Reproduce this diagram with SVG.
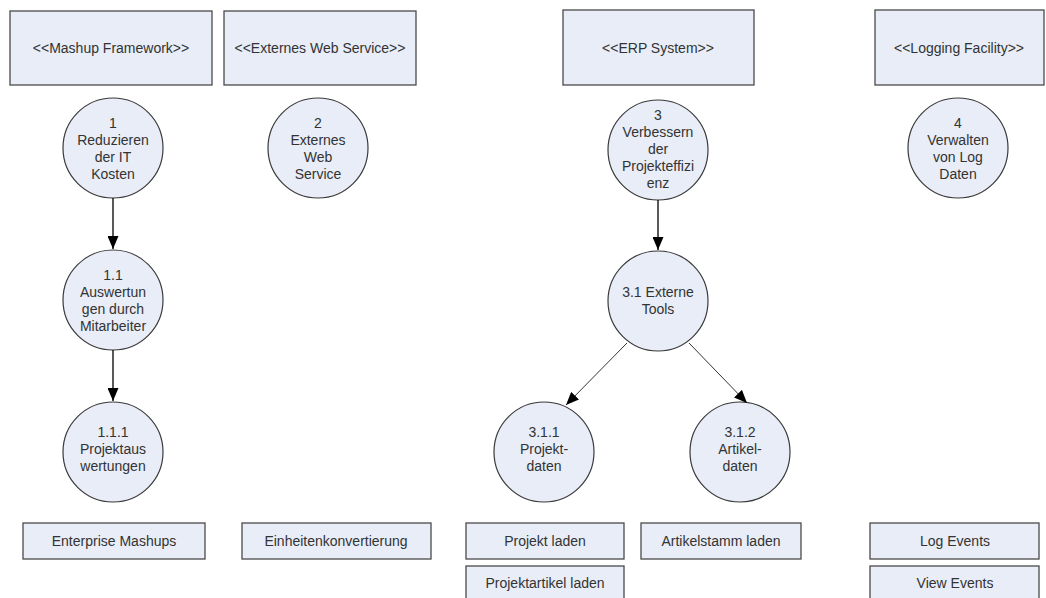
<svg xmlns="http://www.w3.org/2000/svg" width="1046" height="598" viewBox="0 0 1046 598">
  <defs>
    <marker id="arrowhead" viewBox="0 0 13 11" refX="13" refY="5.5" markerWidth="13" markerHeight="11" markerUnits="userSpaceOnUse" orient="auto">
      <path d="M0,0 L13,5.5 L0,11 z" fill="#000"/>
    </marker>
  </defs>
  <style>
    .box { fill: #e8edf7; stroke: #4a4a4a; stroke-width: 1.3; }
    .proc { fill: #e8edf7; stroke: #3a3a3a; stroke-width: 1.2; }
    text { font-family: "Liberation Sans", Arial, sans-serif; font-size: 14px; fill: #333; text-anchor: middle; }
    .conn { stroke: #000; stroke-width: 1.3; fill: none; }
    .conn-diag { stroke: #333; stroke-width: 1; fill: none; }
  </style>
  <rect width="1046" height="598" fill="#ffffff"/>

  <!-- system boxes -->
  <g id="sys-mashup">
    <rect class="box" x="10" y="11" width="202" height="74"/>
    <text x="111" y="53">&lt;&lt;Mashup Framework&gt;&gt;</text>
  </g>
  <g id="sys-webservice">
    <rect class="box" x="224" y="11" width="192" height="74"/>
    <text x="320" y="53">&lt;&lt;Externes Web Service&gt;&gt;</text>
  </g>
  <g id="sys-erp">
    <rect class="box" x="563" y="10" width="191" height="75"/>
    <text x="658" y="53">&lt;&lt;ERP System&gt;&gt;</text>
  </g>
  <g id="sys-logging">
    <rect class="box" x="875" y="10" width="169" height="75"/>
    <text x="959" y="53">&lt;&lt;Logging Facility&gt;&gt;</text>
  </g>

  <!-- process bubbles -->
  <g id="p1">
    <circle class="proc" cx="113" cy="148" r="50"/>
    <text x="113" y="128">1</text>
    <text x="113" y="145">Reduzieren</text>
    <text x="113" y="162">der IT</text>
    <text x="113" y="179">Kosten</text>
  </g>
  <g id="p1-1">
    <circle class="proc" cx="113" cy="300" r="50"/>
    <text x="113" y="280">1.1</text>
    <text x="113" y="297">Auswertun</text>
    <text x="113" y="314">gen durch</text>
    <text x="113" y="331">Mitarbeiter</text>
  </g>
  <g id="p1-1-1">
    <circle class="proc" cx="113" cy="452" r="50"/>
    <text x="113" y="437">1.1.1</text>
    <text x="113" y="454">Projektaus</text>
    <text x="113" y="471">wertungen</text>
  </g>
  <g id="p2">
    <circle class="proc" cx="318" cy="148" r="50"/>
    <text x="318" y="128">2</text>
    <text x="318" y="145">Externes</text>
    <text x="318" y="162">Web</text>
    <text x="318" y="179">Service</text>
  </g>
  <g id="p3">
    <circle class="proc" cx="658" cy="150" r="50"/>
    <text x="658" y="120">3</text>
    <text x="658" y="137">Verbessern</text>
    <text x="658" y="154">der</text>
    <text x="658" y="171">Projekteffizi</text>
    <text x="658" y="188">enz</text>
  </g>
  <g id="p3-1">
    <circle class="proc" cx="658" cy="301" r="50"/>
    <text x="658" y="297">3.1 Externe</text>
    <text x="658" y="314">Tools</text>
  </g>
  <g id="p3-1-1">
    <circle class="proc" cx="544" cy="452" r="50"/>
    <text x="544" y="437">3.1.1</text>
    <text x="544" y="454">Projekt-</text>
    <text x="544" y="471">daten</text>
  </g>
  <g id="p3-1-2">
    <circle class="proc" cx="740" cy="452" r="50"/>
    <text x="740" y="437">3.1.2</text>
    <text x="740" y="454">Artikel-</text>
    <text x="740" y="471">daten</text>
  </g>
  <g id="p4">
    <circle class="proc" cx="958" cy="148" r="50"/>
    <text x="958" y="128">4</text>
    <text x="958" y="145">Verwalten</text>
    <text x="958" y="162">von Log</text>
    <text x="958" y="179">Daten</text>
  </g>

  <!-- functions -->
  <g id="f-enterprise-mashups">
    <rect class="box" x="23" y="523" width="182" height="36"/>
    <text x="114" y="546">Enterprise Mashups</text>
  </g>
  <g id="f-einheiten">
    <rect class="box" x="242" y="523" width="189" height="36"/>
    <text x="336" y="546">Einheitenkonvertierung</text>
  </g>
  <g id="f-projekt-laden">
    <rect class="box" x="466" y="523" width="158" height="36"/>
    <text x="545" y="546">Projekt laden</text>
  </g>
  <g id="f-projektartikel-laden">
    <rect class="box" x="466" y="566" width="158" height="36"/>
    <text x="545" y="588">Projektartikel laden</text>
  </g>
  <g id="f-artikelstamm-laden">
    <rect class="box" x="641" y="523" width="160" height="36"/>
    <text x="721" y="546">Artikelstamm laden</text>
  </g>
  <g id="f-log-events">
    <rect class="box" x="870" y="523" width="169" height="36"/>
    <text x="955" y="546">Log Events</text>
  </g>
  <g id="f-view-events">
    <rect class="box" x="870" y="566" width="169" height="36"/>
    <text x="955" y="588">View Events</text>
  </g>

  <!-- connectors -->
  <g id="connectors">
    <line class="conn" x1="113" y1="198" x2="113" y2="249" marker-end="url(#arrowhead)"/>
    <line class="conn" x1="113" y1="350" x2="113" y2="401" marker-end="url(#arrowhead)"/>
    <line class="conn" x1="658" y1="200" x2="658" y2="250" marker-end="url(#arrowhead)"/>
    <line class="conn-diag" x1="627" y1="343" x2="566" y2="405" marker-end="url(#arrowhead)"/>
    <line class="conn-diag" x1="689" y1="343" x2="747" y2="403" marker-end="url(#arrowhead)"/>
  </g>
</svg>
